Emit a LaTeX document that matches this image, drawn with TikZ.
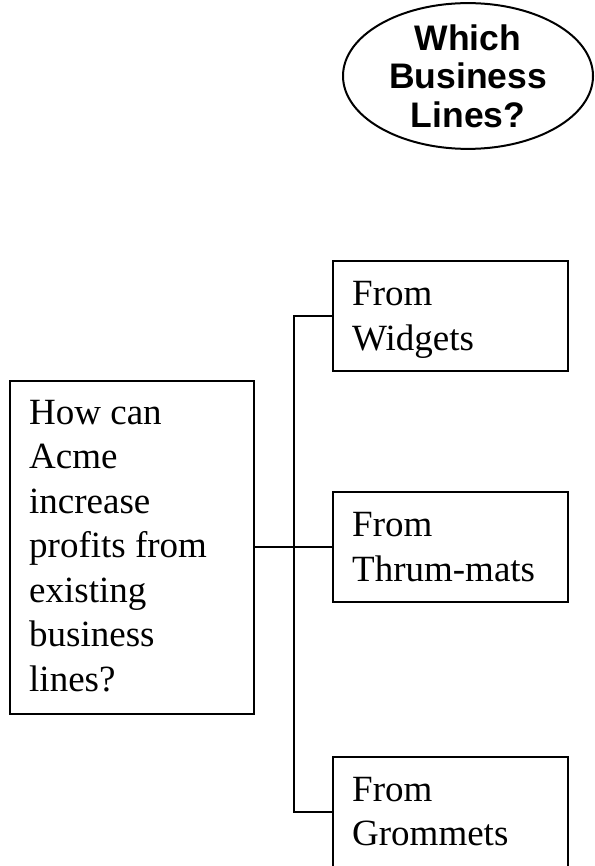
\documentclass[tikz,border=0pt]{standalone}
\usepackage{fontspec}
\setmainfont{Liberation Serif}
\newfontfamily\headsans{Liberation Sans}
\usetikzlibrary{shapes.geometric,calc}
\begin{document}
\begin{tikzpicture}[x=1pt,y=-1pt,
  box/.style={draw,line width=2pt,rectangle,inner sep=0pt},
  branchbox/.style={box,minimum width=235pt,minimum height=110pt},
  boxtext/.style={anchor=north west,inner sep=0pt,align=left,
    font=\fontsize{37}{44.5}\selectfont},
  conn/.style={line width=1.6pt},
  question/.style={draw,ellipse,line width=2pt,inner sep=0pt,
    minimum width=250pt,minimum height=142pt,align=center,
    font=\headsans\bfseries\fontsize{35.5}{38.5}\selectfont}]
\useasboundingbox (0,0) rectangle (594,866);

% heading bubble
\node[question] (which) at (468,76) {Which\\Business\\Lines?};

% root question
\node[box,minimum width=244pt,minimum height=333pt] (acme) at (132,547) {};
\node[boxtext] (acmetext) at ($(acme.north west)+(20,20.5)$)
  {How can\\Acme\\increase\\profits from\\existing\\business\\lines?};

% branches
\node[branchbox] (widgets) at (450.5,316) {};
\node[boxtext] (widgetstext) at ($(widgets.north west)+(20,21.5)$) {From\\Widgets};

\node[branchbox] (thrum) at (450.5,547) {};
\node[boxtext] (thrumtext) at ($(thrum.north west)+(20,21.5)$) {From\\Thrum-mats};

\node[branchbox] (grommets) at (450.5,812) {};
\node[boxtext] (grommetstext) at ($(grommets.north west)+(20,21)$) {From\\Grommets};

% tree connectors
\coordinate (trunk) at (294,547);
\draw[conn] (acme.east) -- (thrum.west);
\draw[conn] (widgets.west) -- (widgets.west -| trunk)
  -- (grommets.west -| trunk) -- (grommets.west);
\end{tikzpicture}
\end{document}
